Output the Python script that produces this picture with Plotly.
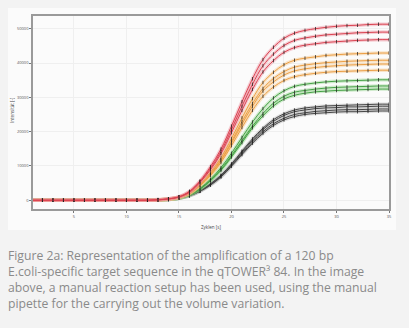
import plotly.graph_objects as go

cycles = list(range(1, 36))
Z = [0] * 12  # cycles 1-12 baseline

red_1 = Z + [200, 400, 1000, 2600, 5600, 9800, 14900, 21600, 28700, 35400, 41000, 44600, 47200, 48700, 49500, 50000, 50400, 50700, 50900, 51000, 51200, 51300, 51300]
red_2 = Z + [100, 400, 1000, 2500, 5400, 9300, 14200, 20600, 27400, 33800, 39200, 42600, 45100, 46600, 47300, 47800, 48200, 48400, 48600, 48800, 48900, 49000, 49000]
red_3 = Z + [100, 400, 900, 2300, 5200, 8900, 13600, 19700, 26200, 32300, 37400, 40700, 43100, 44500, 45200, 45600, 46000, 46200, 46400, 46600, 46700, 46800, 46800]

orange_1 = Z + [100, 300, 900, 2200, 4700, 8200, 12400, 18000, 24000, 29600, 34300, 37300, 39500, 40800, 41400, 41800, 42200, 42400, 42600, 42700, 42800, 42900, 42900]
orange_2 = Z + [100, 300, 800, 2000, 4500, 7800, 11800, 17100, 22900, 28200, 32600, 35500, 37500, 38800, 39400, 39800, 40100, 40300, 40500, 40600, 40700, 40800, 40800]
orange_3 = Z + [100, 300, 800, 2000, 4400, 7500, 11500, 16700, 22200, 27400, 31800, 34500, 36500, 37700, 38300, 38700, 39000, 39200, 39400, 39500, 39600, 39700, 39700]
orange_4 = Z + [100, 300, 800, 1900, 4200, 7200, 11000, 15900, 21200, 26200, 30300, 33000, 34900, 36000, 36600, 37000, 37300, 37500, 37600, 37700, 37800, 37900, 37900]

green_1 = Z + [100, 300, 700, 1700, 3500, 6100, 9500, 13700, 18300, 22800, 26700, 29800, 31900, 33200, 33800, 34200, 34500, 34700, 34800, 34900, 35000, 35100, 35100]
green_2 = Z + [100, 300, 600, 1600, 3300, 5800, 9000, 13000, 17300, 21600, 25300, 28300, 30300, 31500, 32000, 32400, 32700, 32900, 33000, 33100, 33200, 33300, 33300]
green_3 = Z + [100, 300, 600, 1500, 3200, 5700, 8700, 12600, 16800, 21100, 24600, 27500, 29500, 30600, 31200, 31600, 31800, 32000, 32100, 32200, 32300, 32400, 32400]

gray_1 = Z + [100, 300, 600, 1400, 2800, 4800, 7300, 10600, 14300, 17900, 21000, 23500, 25200, 26300, 26900, 27200, 27500, 27600, 27700, 27800, 27900, 28000, 28000]
gray_2 = Z + [100, 200, 600, 1400, 2700, 4700, 7100, 10400, 14000, 17500, 20600, 23000, 24700, 25800, 26300, 26700, 26900, 27000, 27200, 27200, 27300, 27400, 27400]
gray_3 = Z + [100, 200, 600, 1300, 2700, 4500, 6900, 10100, 13600, 17000, 20000, 22300, 23900, 25000, 25500, 25900, 26100, 26300, 26400, 26400, 26500, 26600, 26600]
gray_4 = Z + [100, 200, 600, 1300, 2600, 4400, 6800, 9900, 13300, 16600, 19500, 21800, 23400, 24400, 25000, 25300, 25500, 25700, 25800, 25800, 25900, 26000, 26000]

x_ticks = [5, 10, 15, 20, 25, 30, 35]
y_ticks = [0, 10000, 20000, 30000, 40000, 50000]

caption_lines = [
    "Figure 2a: Representation of the amplification of a 120 bp",
    "E.coli-specific target sequence in the qTOWER³ 84. In the image",
    "above, a manual reaction setup has been used, using the manual",
    "pipette for the carrying out the volume variation.",
]

groups = [
    ([gray_1, gray_2, gray_3, gray_4], "#474747", "rgba(160,160,160,0.30)"),
    ([green_1, green_2, green_3], "#45a045", "rgba(130,205,120,0.35)"),
    ([orange_1, orange_2, orange_3, orange_4], "#ec9f45", "rgba(246,195,130,0.40)"),
    ([red_1, red_2, red_3], "#db4452", "rgba(238,140,155,0.40)"),
]

fig = go.Figure()
for series, line_col, band_col in groups:
    for s in series:
        fig.add_trace(go.Scatter(x=cycles, y=s, mode="lines",
                                 line=dict(color=band_col, width=3.5, shape="spline"),
                                 hoverinfo="skip", showlegend=False))
    for s in series:
        fig.add_trace(go.Scatter(x=cycles, y=s, mode="lines+markers",
                                 line=dict(color=line_col, width=1, shape="spline"),
                                 marker=dict(symbol="line-ns", size=2.5,
                                             line=dict(color="rgba(30,30,30,0.75)", width=1)),
                                 showlegend=False))

def px_x(p):
    return (p - 33) / 356.0

def px_y(p):
    return (209 - p) / 193.0

fig.add_shape(type="rect", xref="paper", yref="paper",
              x0=px_x(8), x1=px_x(396), y0=px_y(230), y1=px_y(8),
              fillcolor="#fbfbfb", line=dict(width=0), layer="below")

fig.add_annotation(xref="paper", yref="paper", x=0.5, y=px_y(227),
                   text="Zyklen [s]", showarrow=False, xanchor="center", yanchor="middle",
                   font=dict(size=4.5, color="#444444", family="Open Sans"))
fig.add_annotation(xref="paper", yref="paper", x=px_x(12), y=px_y(110),
                   text="Intensität [-]", showarrow=False, textangle=-90,
                   xanchor="center", yanchor="middle",
                   font=dict(size=4.5, color="#444444", family="Open Sans"))

fig.add_annotation(xref="paper", yref="paper", x=px_x(7), y=px_y(246),
                   text="<br>".join(caption_lines), showarrow=False,
                   xanchor="left", yanchor="top", align="left", borderpad=0,
                   font=dict(size=12.2, color="#8a8a8a", family="Open Sans"))

axis_common = dict(showline=True, mirror=True, linecolor="#9a9a9a", linewidth=1.5,
                   showgrid=True, gridcolor="#efefef", gridwidth=1,
                   ticks="outside", ticklen=2, tickcolor="#777777",
                   tickfont=dict(size=4, color="#555555", family="Open Sans"),
                   zeroline=False)

fig.update_layout(
    width=409, height=328,
    margin=dict(l=33, r=20, t=16, b=119),
    paper_bgcolor="#f3f3f3",
    plot_bgcolor="#ffffff",
    xaxis=dict(range=[1.1, 35], tickvals=x_ticks, **axis_common),
    yaxis=dict(range=[-2550, 53700], tickvals=y_ticks,
               ticktext=[str(v) for v in y_ticks], **axis_common),
)

fig.write_html("out.html")
